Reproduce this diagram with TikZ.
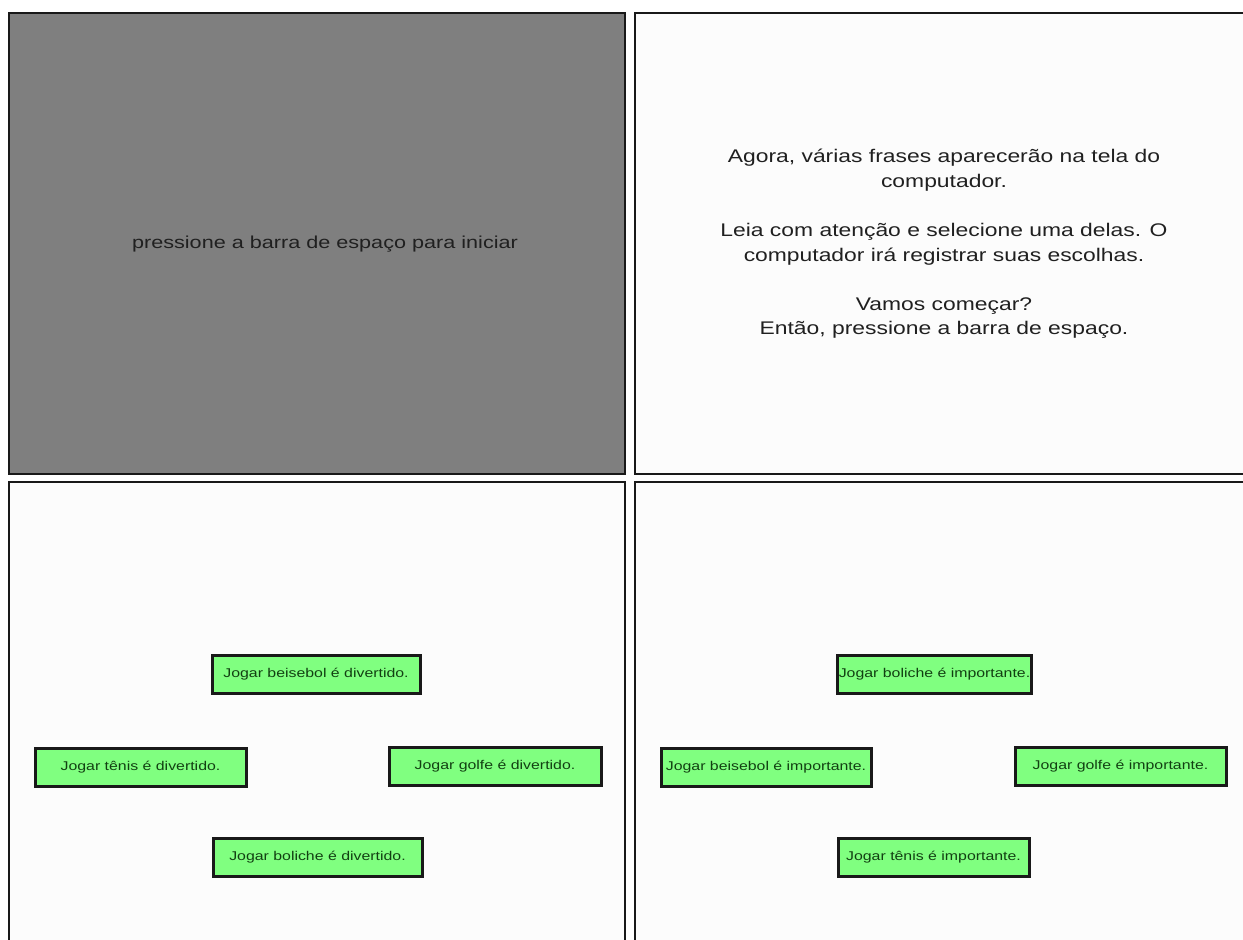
\documentclass[tikz,border=0pt]{standalone}
\usepackage{fontspec}
\setmainfont{Liberation Sans}
\definecolor{panelgray}{HTML}{7F7F7F}
\definecolor{panelwhite}{HTML}{FCFCFC}
\definecolor{boxgreen}{HTML}{80FF80}
\definecolor{boxtext}{HTML}{124012}
\definecolor{txt}{HTML}{202020}
\newcommand\stretchtxt[1]{\scalebox{1.25}[1]{#1}}
\begin{document}
\begin{tikzpicture}[x=1pt,y=-1pt,
  panel/.style={draw=black!90,line width=2.5pt},
  choice/.style={draw=black!90,line width=3pt,fill=boxgreen,text=boxtext,
    minimum height=38pt,inner sep=0pt,font=\fontsize{12.7}{14}\selectfont},
  bigtext/.style={text=txt,align=center,xscale=1.25,transform shape}]
\useasboundingbox (0,0) rectangle (1243,940);
\fill[white] (0,0) rectangle (1243,940);
\clip (0,0) rectangle (1243,940);
% panels
\draw[panel,fill=panelgray] (9,13) rectangle (625,474);
\draw[panel,fill=panelwhite] (635,13) rectangle (1255,474);
\draw[panel,fill=panelwhite] (9,482) rectangle (625,955);
\draw[panel,fill=panelwhite] (635,482) rectangle (1255,955);
% texts
\node[bigtext,font=\fontsize{17.3}{21}\selectfont] (start) at (325,244) {pressione a barra de espaço para iniciar};
\node[bigtext,font=\fontsize{18.3}{24.6}\selectfont] (instr) at (944,244)
  {Agora, várias frases aparecerão na tela do\\
   computador.\\[24.6pt]
   Leia com atenção e selecione uma delas. O\\
   computador irá registrar suas escolhas.\\[24.6pt]
   Vamos começar?\\
   Então, pressione a barra de espaço.};
% bottom-left choices
\node[choice,minimum width=208pt] (bl1) at (316,674.5) {\stretchtxt{Jogar beisebol é divertido.}};
\node[choice,minimum width=211pt] (bl2) at (140.5,767) {\stretchtxt{Jogar tênis é divertido.}};
\node[choice,minimum width=212pt] (bl3) at (495,766) {\stretchtxt{Jogar golfe é divertido.}};
\node[choice,minimum width=209pt] (bl4) at (317.5,857) {\stretchtxt{Jogar boliche é divertido.}};
% bottom-right choices
\node[choice,minimum width=194pt] (br1) at (934.5,674.5) {\stretchtxt{Jogar boliche é importante.}};
\node[choice,minimum width=210pt] (br2) at (766,767) {\stretchtxt{Jogar beisebol é importante.}};
\node[choice,minimum width=211pt] (br3) at (1120.5,766) {\stretchtxt{Jogar golfe é importante.}};
\node[choice,minimum width=191pt] (br4) at (933.5,857) {\stretchtxt{Jogar tênis é importante.}};
\end{tikzpicture}
\end{document}
